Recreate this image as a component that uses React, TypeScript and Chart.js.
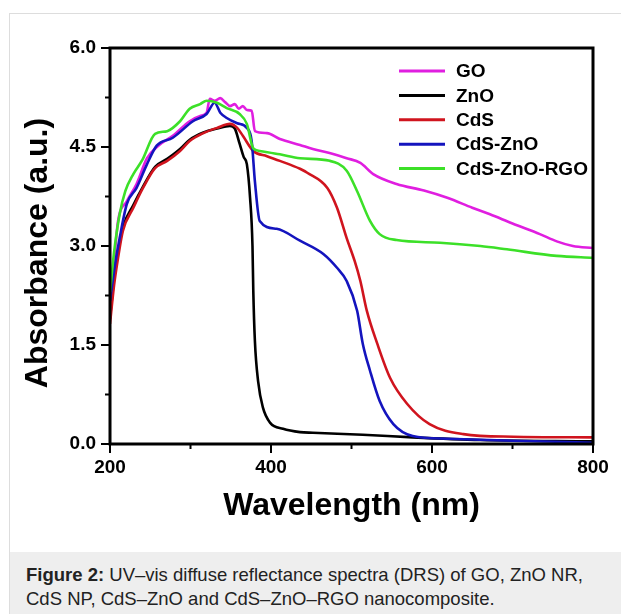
import React, { useEffect, useRef } from "react";
import { Chart, registerables } from "chart.js";
Chart.register(...registerables);

const seriesLabels = ["GO", "ZnO", "CdS", "CdS-ZnO", "CdS-ZnO-RGO"];
const seriesColors = ["#e01ee0", "#000000", "#d0141e", "#1414be", "#3ce028"];

const goWavelength = [200, 206, 210, 221, 233, 246, 260, 278, 299, 312, 320, 324, 330, 337, 343, 349, 355, 360, 365, 370, 376, 380, 395, 411, 436, 452, 475, 494, 511, 527, 556, 590, 619, 650, 672, 700, 734, 755, 775, 800];
const goAbsorbance = [2.2, 2.9, 3.38, 3.68, 3.94, 4.33, 4.52, 4.67, 4.89, 4.97, 5.02, 5.23, 5.2, 5.24, 5.18, 5.12, 5.15, 5.08, 5.12, 5.06, 5.05, 4.74, 4.71, 4.62, 4.53, 4.47, 4.4, 4.33, 4.26, 4.09, 3.94, 3.84, 3.73, 3.58, 3.48, 3.34, 3.18, 3.07, 3.0, 2.97];

const znoWavelength = [200, 205, 210, 216, 229, 241, 256, 271, 287, 299, 316, 333, 349, 355, 361, 366, 370, 374, 377, 378, 380, 384, 390, 399, 415, 436, 452, 514, 576, 660, 800];
const znoAbsorbance = [1.9, 2.5, 2.9, 3.28, 3.62, 3.9, 4.2, 4.32, 4.47, 4.61, 4.72, 4.78, 4.82, 4.78, 4.55, 4.35, 4.24, 3.73, 3.0, 2.32, 1.56, 0.95, 0.55, 0.32, 0.23, 0.18, 0.17, 0.14, 0.1, 0.06, 0.04];

const cdsWavelength = [200, 205, 210, 216, 229, 241, 256, 271, 287, 299, 316, 333, 349, 358, 365, 378, 395, 411, 436, 445, 470, 482, 494, 504, 511, 519, 532, 548, 569, 597, 639, 701, 800];
const cdsAbsorbance = [1.82, 2.4, 2.82, 3.23, 3.58, 3.88, 4.18, 4.29, 4.44, 4.59, 4.71, 4.79, 4.85, 4.79, 4.67, 4.44, 4.36, 4.29, 4.17, 4.11, 3.88, 3.58, 3.12, 2.77, 2.47, 2.02, 1.52, 1.0, 0.61, 0.3, 0.15, 0.11, 0.1];

const cdsZnoWavelength = [200, 206, 212, 221, 233, 246, 258, 278, 303, 320, 330, 337, 345, 358, 370, 376, 380, 386, 407, 436, 465, 482, 494, 507, 514, 523, 535, 552, 576, 619, 701, 800];
const cdsZnoAbsorbance = [2.17, 2.7, 3.12, 3.64, 3.88, 4.24, 4.52, 4.64, 4.89, 5.0, 5.17, 5.02, 4.94, 4.86, 4.79, 4.59, 3.98, 3.38, 3.26, 3.08, 2.88, 2.67, 2.47, 2.02, 1.52, 1.11, 0.65, 0.3, 0.12, 0.08, 0.05, 0.02];

const rgoWavelength = [200, 205, 212, 219, 229, 240, 256, 271, 287, 299, 312, 320, 333, 345, 361, 370, 378, 386, 411, 436, 473, 494, 507, 523, 535, 556, 610, 660, 693, 755, 800];
const rgoAbsorbance = [2.3, 2.9, 3.48, 3.83, 4.09, 4.3, 4.7, 4.74, 4.89, 5.08, 5.15, 5.2, 5.17, 5.09, 5.0, 4.85, 4.48, 4.44, 4.39, 4.33, 4.29, 4.14, 3.83, 3.38, 3.18, 3.09, 3.05, 3.0, 2.95, 2.85, 2.82];

const seriesWavelengths = [goWavelength, znoWavelength, cdsWavelength, cdsZnoWavelength, rgoWavelength];
const seriesAbsorbances = [goAbsorbance, znoAbsorbance, cdsAbsorbance, cdsZnoAbsorbance, rgoAbsorbance];

const xMajorTicks = [200, 400, 600, 800];
const xMinorTicks = [300, 500, 700];
const yMajorTicks = [0, 1.5, 3.0, 4.5, 6.0];
const yMinorTicks = [0.75, 2.25, 3.75, 5.25];

const yTitle = "Absorbance (a.u.)";
const xTitle = "Wavelength (nm)";

const FONT = '"Liberation Sans", Arial, Helvetica, sans-serif';

const framePlugin = {
  id: "frameTicks",
  afterDatasetsDraw(chart: any) {
    const { ctx, chartArea } = chart;
    const xs = chart.scales.x;
    const ys = chart.scales.y;
    ctx.save();
    ctx.strokeStyle = "#000";
    ctx.lineWidth = 2;
    ctx.lineCap = "butt";
    const bottom = chartArea.bottom;
    const left = chartArea.left;
    xMajorTicks.forEach((v) => {
      const p = xs.getPixelForValue(v);
      ctx.beginPath(); ctx.moveTo(p, bottom); ctx.lineTo(p, bottom + 9); ctx.stroke();
    });
    xMinorTicks.forEach((v) => {
      const p = xs.getPixelForValue(v);
      ctx.beginPath(); ctx.moveTo(p, bottom); ctx.lineTo(p, bottom + 5); ctx.stroke();
    });
    yMajorTicks.forEach((v) => {
      const p = ys.getPixelForValue(v);
      ctx.beginPath(); ctx.moveTo(left, p); ctx.lineTo(left - 9, p); ctx.stroke();
    });
    yMinorTicks.forEach((v) => {
      const p = ys.getPixelForValue(v);
      ctx.beginPath(); ctx.moveTo(left, p); ctx.lineTo(left - 5, p); ctx.stroke();
    });
    ctx.lineWidth = 3;
    ctx.strokeRect(chartArea.left, chartArea.top, chartArea.right - chartArea.left, chartArea.bottom - chartArea.top);

    // y axis title
    ctx.save();
    ctx.translate(38, (chartArea.top + chartArea.bottom) / 2 + 7);
    ctx.rotate(-Math.PI / 2);
    ctx.fillStyle = "#000";
    ctx.font = `bold 32px ${FONT}`;
    ctx.textAlign = "center";
    ctx.textBaseline = "middle";
    ctx.fillText(yTitle, 0, 0);
    ctx.restore();

    // legend
    const lx0 = chartArea.right - 194;
    const lx1 = chartArea.right - 148;
    const tx = chartArea.right - 137;
    const ly0 = chartArea.top + 23;
    chart.data.datasets.forEach((ds: any, i: number) => {
      const y = ly0 + i * 24.4;
      ctx.strokeStyle = ds.borderColor;
      ctx.lineWidth = 3;
      ctx.beginPath(); ctx.moveTo(lx0, y); ctx.lineTo(lx1, y); ctx.stroke();
      ctx.fillStyle = "#000";
      ctx.font = `bold 19px ${FONT}`;
      ctx.textBaseline = "middle";
      ctx.textAlign = "left";
      ctx.fillText(ds.label, tx, y + 1);
    });
    ctx.restore();
  },
};

export default function App() {
  const ref = useRef<HTMLCanvasElement | null>(null);
  useEffect(() => {
    if (!ref.current) return;
    const datasets = seriesLabels.map((label, i) => ({
      label,
      data: seriesWavelengths[i].map((x, j) => ({ x, y: seriesAbsorbances[i][j] })),
      borderColor: seriesColors[i],
      backgroundColor: seriesColors[i],
      borderWidth: 2.6,
      pointRadius: 0,
      order: seriesLabels.length - i,
      cubicInterpolationMode: "monotone" as const,
      fill: false,
    }));
    const chart = new Chart(ref.current, {
      type: "line",
      data: { datasets },
      plugins: [framePlugin],
      options: {
        animation: false,
        responsive: false,
        layout: { padding: { top: 48, right: 28, left: 0, bottom: 0 } },
        plugins: { legend: { display: false }, tooltip: { enabled: false } },
        scales: {
          x: {
            type: "linear",
            min: 200,
            max: 800,
            grid: { display: false, drawTicks: false },
            border: { display: false },
            ticks: {
              stepSize: 200,
              padding: 12,
              color: "#000",
              font: { family: FONT, size: 19, weight: "bold" },
              callback: (v: any) => String(v),
            },
            title: {
              display: true,
              text: xTitle,
              color: "#000",
              font: { family: FONT, size: 32, weight: "bold" },
              padding: { top: 0, bottom: 27 },
            },
            afterFit: (s: any) => { s.height = 108; },
          },
          y: {
            type: "linear",
            min: 0,
            max: 6,
            grid: { display: false, drawTicks: false },
            border: { display: false },
            ticks: {
              stepSize: 1.5,
              padding: 14,
              color: "#000",
              font: { family: FONT, size: 19, weight: "bold" },
              callback: (v: any) => Number(v).toFixed(1),
            },
            title: { display: false },
            afterFit: (s: any) => { s.width = 110; },
          },
        },
      },
    });
    return () => chart.destroy();
  }, []);

  return (
    <div style={{ position: "fixed", left: 0, top: 0, width: 621, height: 614, overflow: "hidden", background: "#fff" }}>
      <div style={{ position: "absolute", left: 9, top: 13, width: 640, height: 640, border: "1px solid #dddddd", boxSizing: "border-box" }} />
      <div
        style={{
          position: "absolute",
          left: 10,
          top: 552,
          width: 640,
          height: 80,
          background: "#eeeeee",
          boxSizing: "border-box",
          padding: "11px 0 0 16px",
          fontFamily: FONT,
          fontSize: 18.5,
          lineHeight: "23.5px",
          color: "#222",
        }}
      >
        <b>Figure 2:</b> UV–vis diffuse reflectance spectra (DRS) of GO, ZnO NR,
        <br />
        CdS NP, CdS–ZnO and CdS–ZnO–RGO nanocomposite.
      </div>
      <canvas ref={ref} width={621} height={552} style={{ position: "absolute", left: 0, top: 0, width: 621, height: 552 }} />
    </div>
  );
}
